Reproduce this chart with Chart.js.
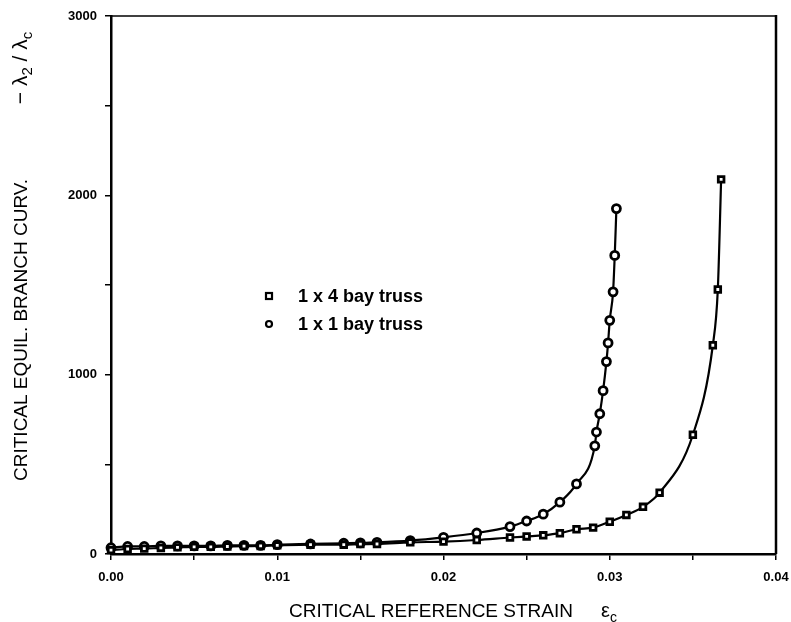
<!DOCTYPE html>
<html>
<head>
<meta charset="utf-8">
<script src="https://cdn.jsdelivr.net/npm/chart.js@4.4.1/dist/chart.umd.min.js"></script>
<style>
  html, body { margin: 0; padding: 0; background: #fff; }
  #wrap { width: 791px; height: 622px; position: relative; }
</style>
</head>
<body>
<div id="wrap"><canvas id="myChart" width="791" height="622"></canvas></div>
<script>
// values
var seriesNames = ['1 x 4 bay truss', '1 x 1 bay truss'];

var strain1x4 = [0, .001, .002, .003, .004, .005, .006, .007, .008, .009, .010, .012, .014, .015, .016, .018,
                 .020, .022, .024, .025, .026, .027, .028, .029, .030, .031, .032, .033, .035, .0362, .0365, .0367];
var curv1x4 = [22, 28, 30, 34, 37, 40, 40, 42, 44, 45, 48, 52, 52, 55, 56, 65,
               69, 78, 92, 98, 104, 116, 138, 147, 180, 218, 263, 342, 665, 1164, 1475, 2089];

var strain1x1 = [0, .001, .002, .003, .004, .005, .006, .007, .008, .009, .010, .012, .014, .015, .016, .018,
                 .020, .022, .024, .025, .026, .027, .028, .0291, .0292, .0294, .0296, .0298, .0299, .0300, .0302, .0303, .0304];
var curv1x1 = [35, 42, 42, 45, 45, 45, 45, 48, 48, 48, 52, 56, 60, 62, 65, 75,
               93, 117, 153, 184, 222, 289, 391, 603, 680, 782, 911, 1073, 1177, 1303, 1462, 1665, 1926];

var xTickLabels = ['0.00', '0.01', '0.02', '0.03', '0.04'];
var yTickLabels = ['0', '1000', '2000', '3000'];

var FONT = '"Liberation Sans", Arial, sans-serif';

function toPoints(xs, ys) {
  var pts = [];
  for (var i = 0; i < xs.length; i++) pts.push({x: xs[i], y: ys[i]});
  return pts;
}

// draws a run of text pieces, some of them as subscripts
function drawParts(ctx, parts, x, y, size) {
  for (var i = 0; i < parts.length; i++) {
    var p = parts[i];
    if (p.sub) {
      ctx.font = Math.round(size * 0.7) + 'px ' + FONT;
      ctx.fillText(p.t, x, y + size * 0.25);
    } else {
      ctx.font = size + 'px ' + FONT;
      ctx.fillText(p.t, x, y);
    }
    x += ctx.measureText(p.t).width;
  }
}
function partsWidth(ctx, parts, size) {
  var w = 0;
  for (var i = 0; i < parts.length; i++) {
    ctx.font = (parts[i].sub ? Math.round(size * 0.7) : size) + 'px ' + FONT;
    w += ctx.measureText(parts[i].t).width;
  }
  return w;
}

var extras = {
  id: 'extras',
  afterDraw: function(chart) {
    var ctx = chart.ctx, a = chart.chartArea;
    ctx.save();
    ctx.strokeStyle = '#000';
    // top and right frame
    ctx.lineWidth = 1.5;
    ctx.beginPath(); ctx.moveTo(a.left, a.top); ctx.lineTo(a.right, a.top); ctx.stroke();
    ctx.lineWidth = 2.5;
    ctx.beginPath(); ctx.moveTo(a.right, a.top - 1); ctx.lineTo(a.right, a.bottom); ctx.stroke();

    ctx.fillStyle = '#000';
    ctx.textBaseline = 'middle';

    // legend inside the plot
    var rows = [{y: 296, style: 'rect'}, {y: 324, style: 'circle'}];
    for (var i = 0; i < rows.length; i++) {
      ctx.lineWidth = 2.2;
      ctx.fillStyle = '#fff';
      if (rows[i].style === 'rect') {
        ctx.fillRect(266, rows[i].y - 3, 6, 6);
        ctx.strokeRect(266, rows[i].y - 3, 6, 6);
      } else {
        ctx.beginPath(); ctx.arc(269, rows[i].y, 3, 0, Math.PI * 2); ctx.fill(); ctx.stroke();
      }
      ctx.fillStyle = '#000';
      ctx.textAlign = 'left';
      ctx.font = 'bold 18px ' + FONT;
      ctx.fillText(seriesNames[i], 298, rows[i].y + 1);
    }

    // x axis title
    ctx.textBaseline = 'alphabetic';
    ctx.textAlign = 'left';
    ctx.font = '19px ' + FONT;
    var xt = 'CRITICAL REFERENCE STRAIN';
    var w = ctx.measureText(xt).width;
    ctx.fillText(xt, 431 - w / 2, 617);
    drawParts(ctx, [{t: '\u03b5'}, {t: 'c', sub: true}], 601, 617, 20);

    // y axis title
    ctx.translate(27, 0);
    ctx.rotate(-Math.PI / 2);
    var yt = 'CRITICAL EQUIL. BRANCH CURV.';
    ctx.font = '19px ' + FONT;
    w = ctx.measureText(yt).width;
    ctx.fillText(yt, -330 - w / 2, 0);
    var lam = [{t: '\u2212 \u03bb'}, {t: '2', sub: true}, {t: ' / \u03bb'}, {t: 'c', sub: true}];
    var lw = partsWidth(ctx, lam, 21);
    drawParts(ctx, lam, -68 - lw / 2, 0, 21);
    ctx.restore();
  }
};

function dataset(i, xs, ys, style) {
  return {
    label: seriesNames[i],
    data: toPoints(xs, ys),
    borderColor: '#000',
    borderWidth: 2.2,
    backgroundColor: '#fff',
    pointStyle: style,
    pointRadius: 4,
    pointBorderWidth: 2.8,
    pointBackgroundColor: '#fff',
    pointBorderColor: '#000',
    cubicInterpolationMode: 'monotone',
    clip: false
  };
}

var canvas = document.getElementById('myChart');
var chart = new Chart(canvas.getContext('2d'), {
  type: 'line',
  data: {
    datasets: [
      dataset(0, strain1x4, curv1x4, 'rect'),
      dataset(1, strain1x1, curv1x1, 'circle')
    ]
  },
  plugins: [extras],
  options: {
    responsive: false,
    animation: false,
    layout: { padding: { left: 0, right: 15, top: 16, bottom: 0 } },
    plugins: { legend: { display: false }, tooltip: { enabled: false } },
    scales: {
      x: {
        type: 'linear',
        min: 0, max: 0.04,
        afterFit: function(s) { s.height = 68; s.paddingLeft = 0; s.paddingRight = 0; },
        ticks: {
          stepSize: 0.005,
          autoSkip: false,
          maxRotation: 0,
          padding: 10,
          color: '#000',
          font: { family: FONT, size: 13, weight: 'bold' },
          callback: function(v) {
            var k = Math.round(v * 100);
            if (Math.abs(v * 100 - k) > 1e-6) return '';
            return xTickLabels[k];
          }
        },
        grid: { drawOnChartArea: false, drawTicks: true, tickLength: 6, color: '#000', lineWidth: 1.5 },
        border: { display: true, color: '#000', width: 2.5 }
      },
      y: {
        type: 'linear',
        min: 0, max: 3000,
        afterFit: function(s) { s.width = 111; s.paddingTop = 0; s.paddingBottom = 0; },
        ticks: {
          stepSize: 500,
          autoSkip: false,
          padding: 8,
          color: '#000',
          font: { family: FONT, size: 13, weight: 'bold' },
          callback: function(v) {
            if (v % 1000 !== 0) return '';
            return yTickLabels[v / 1000];
          }
        },
        grid: { drawOnChartArea: false, drawTicks: true, tickLength: 6, color: '#000', lineWidth: 1.5 },
        border: { display: true, color: '#000', width: 2.5 }
      }
    }
  }
});
</script>
</body>
</html>
